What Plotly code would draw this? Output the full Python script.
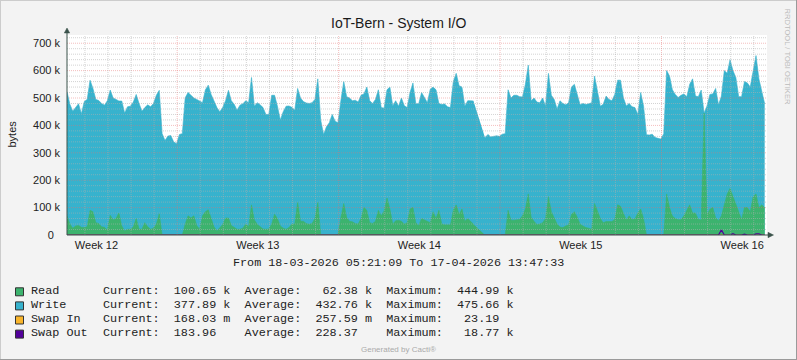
import plotly.graph_objects as go
import pandas as pd

# ---------------- data ----------------
title = "IoT-Bern - System I/O"
start_time = "2026-03-18 05:21:09"
end_time = "2026-04-17 13:47:33"
sample_freq = "3h"

# stacked top (Read + Write), in k bytes
stack_k = [
    523, 477, 452, 465, 479, 443, 487, 495, 565, 535,
    495, 491, 480, 474, 490, 529, 500, 495, 489, 489,
    445, 468, 470, 485, 513, 480, 452, 465, 475, 468,
    480, 510, 528, 370, 345, 361, 363, 340, 333, 367,
    370, 501, 520, 510, 500, 495, 489, 483, 530, 547,
    513, 490, 465, 450, 465, 490, 528, 490, 477, 455,
    474, 479, 490, 483, 575, 470, 483, 475, 465, 440,
    440, 510, 510, 470, 420, 450, 470, 471, 466, 455,
    535, 500, 487, 482, 480, 483, 495, 570, 420, 367,
    395, 410, 440, 415, 410, 490, 560, 505, 500, 490,
    492, 485, 510, 515, 540, 490, 480, 495, 530, 465,
    463, 530, 540, 471, 490, 470, 500, 472, 465, 520,
    555, 479, 479, 520, 500, 483, 532, 540, 530, 480,
    476, 478, 468, 465, 560, 590, 545, 540, 470, 490,
    490, 489, None, None, None, 355, 367, 358, 360, 362,
    360, 368, 370, 530, 500, 510, 510, 505, 504, 550,
    620, 490, 500, 485, 483, 500, 470, 590, 510, 495,
    460, 490, 480, 475, 483, 540, 550, 510, 475, 480,
    476, 479, 483, 580, 530, 470, 477, 507, 495, 490,
    513, 565, 565, 501, 471, 480, 468, 465, 440, 520,
    470, 366, 365, 368, 356, 353, 350, 370, 600, 580,
    530, 513, 502, 510, 515, 505, 550, 570, 507, 505,
    529, 445, 471, 513, 515, 535, 475, 507, 600, 590,
    640, 600, 575, 505, 505, 560, 555, 540, 600, 655,
    570, 520, 479,
]

# Read, in k bytes
read_k = [
    69, 40, 25, 33, 35, 28, 27, 30, 90, 85,
    45, 42, 30, 28, 18, 72, 55, 60, 80, 33,
    15, 21, 21, 29, 60, 22, 21, 45, 30, 21,
    25, 40, 78, 0, 0, 0, 0, 0, 0, 0,
    0, 40, 70, 62, 70, 35, 21, 70, 85, 92,
    60, 30, 15, 28, 38, 62, 62, 35, 29, 21,
    21, 25, 40, 30, 110, 55, 39, 29, 22, 21,
    22, 40, 76, 60, 33, 25, 21, 27, 40, 40,
    120, 50, 50, 42, 39, 42, 60, 120, 0, 0,
    0, 0, 0, 0, 0, 65, 115, 65, 50, 48,
    42, 40, 60, 100, 90, 45, 42, 50, 90, 70,
    88, 135, 95, 40, 52, 54, 50, 40, 45, 95,
    100, 45, 35, 60, 55, 51, 45, 85, 60, 90,
    40, 37, 37, 37, 90, 110, 75, 95, 50, 60,
    50, 39, None, None, None, 0, 0, 0, 0, 0,
    0, 0, 0, 90, 54, 54, 55, 57, 70, 95,
    150, 65, 50, 38, 40, 45, 60, 140, 85, 60,
    40, 29, 27, 33, 37, 75, 85, 65, 39, 33,
    27, 25, 21, 115, 90, 60, 45, 49, 49, 49,
    57, 110, 105, 80, 55, 70, 57, 58, 80, 95,
    60, 0, 0, 0, 0, 0, 0, 0, 150, 100,
    69, 60, 56, 56, 70, 90, 110, 80, 80, 57,
    55, 445, 75, 94, 100, 63, 52, 70, 110, 150,
    170, 140, 110, 82, 57, 100, 100, 85, 140, 150,
    100, 110, 100,
]

# Swap lines (sample index, value in k bytes)
swap_out_idx = [0, 18, 19, 20, 226, 227, 228, 230, 231, 232, 234, 235, 236, 238, 239, 240, 241, 242]
swap_out_k = [0, 0, 2, 0, 0, 18.77, 0, 0, 5, 0, 0, 3, 0, 0, 4, 4, 0, 0]
swap_in_idx = [0, 242]
swap_in_k = [0, 0]

week_labels = ["Week 12", "Week 13", "Week 14", "Week 15", "Week 16"]
week_label_times = ["2026-03-19 12:00", "2026-03-26 12:00", "2026-04-02 12:00",
                    "2026-04-09 12:00", "2026-04-16 12:00"]
y_tick_vals = [0, 100000, 200000, 300000, 400000, 500000, 600000, 700000]
y_tick_text = ["0\u00a0\u00a0", "100 k", "200 k", "300 k", "400 k", "500 k", "600 k", "700 k"]

legend_names = ["Read", "Write", "Swap In", "Swap Out"]
legend_current = ["100.65 k", "377.89 k", "168.03 m", "183.96"]
legend_average = ["62.38 k", "432.76 k", "257.59 m", "228.37"]
legend_maximum = ["444.99 k", "475.66 k", "23.19", "18.77 k"]

BLUE = "#37B2CD"
GREEN = "#3CB36E"
ORANGE = "#F9B52B"
PURPLE = "#52009A"
legend_colors = [GREEN, BLUE, ORANGE, PURPLE]

# ---------------- geometry ----------------
FW, FH = 797, 360
L, R, T, B = 67, 30, 35, 125
W = FW - L - R
H = FH - T - B
Y0 = FH - B  # pixel y of the x axis


def px(x):
    return (x - L) / W


def py(y):
    return (Y0 - y) / H


times = pd.date_range(start=start_time, periods=len(stack_k), freq=sample_freq)
stack = [None if v is None else v * 1000 for v in stack_k]
read = [None if v is None else v * 1000 for v in read_k]

fig = go.Figure()
fig.add_trace(go.Scatter(x=times, y=stack, mode="lines", fill="tozeroy",
                         fillcolor=BLUE, line=dict(color=BLUE, width=0.6),
                         connectgaps=False, name="Write", hoverinfo="skip"))
fig.add_trace(go.Scatter(x=times, y=read, mode="lines", fill="tozeroy",
                         fillcolor=GREEN, line=dict(color=GREEN, width=0.6),
                         connectgaps=False, name="Read", hoverinfo="skip"))
fig.add_trace(go.Scatter(x=[times[i] for i in swap_in_idx], y=[v * 1000 for v in swap_in_k],
                         mode="lines", line=dict(color=ORANGE, width=1), name="Swap In",
                         hoverinfo="skip"))
fig.add_trace(go.Scatter(x=[times[i] for i in swap_out_idx], y=[v * 1000 for v in swap_out_k],
                         mode="lines", line=dict(color=PURPLE, width=1.2), name="Swap Out",
                         hoverinfo="skip"))

RED_GRID = "rgba(230,110,110,0.45)"
GREY_GRID = "rgba(175,175,175,0.55)"
shapes = []
# grid lines (drawn above the areas, like rrdtool)
for v in range(20000, 730000, 20000):
    major = v % 100000 == 0
    shapes.append(dict(type="line", xref="paper", yref="y", x0=0, x1=1, y0=v, y1=v,
                       layer="above",
                       line=dict(color=RED_GRID if major else GREY_GRID, width=1, dash="1px,1px")))
days = pd.date_range("2026-03-19", "2026-04-17", freq="D")
for d in days:
    major = d.weekday() == 0
    shapes.append(dict(type="line", xref="x", yref="paper", x0=d, x1=d, y0=0, y1=1,
                       layer="above",
                       line=dict(color=RED_GRID if major else GREY_GRID, width=1, dash="1px,1px")))

AX = "#3A524B"
# axis lines + arrows
shapes.append(dict(type="line", xref="paper", yref="paper", x0=px(L), x1=px(769), y0=0, y1=0,
                   layer="above", line=dict(color=AX, width=1)))
shapes.append(dict(type="line", xref="paper", yref="paper", x0=0, x1=0, y0=0, y1=py(31),
                   layer="above", line=dict(color=AX, width=1)))
shapes.append(dict(type="path", xref="paper", yref="paper", layer="above",
                   path=f"M {px(768)},{py(232.3)} L {px(773.5)},{py(235)} L {px(768)},{py(237.7)} Z",
                   fillcolor=AX, line=dict(color=AX, width=0.5)))
shapes.append(dict(type="path", xref="paper", yref="paper", layer="above",
                   path=f"M {px(64.3)},{py(33)} L {px(67)},{py(28)} L {px(69.7)},{py(33)} Z",
                   fillcolor=AX, line=dict(color=AX, width=0.5)))

# legend swatches
for k, c in enumerate(legend_colors):
    yc = 291.8 + 14.1 * k
    shapes.append(dict(type="rect", xref="paper", yref="paper",
                       x0=px(15.5), x1=px(23.5), y0=py(yc - 4), y1=py(yc + 4),
                       fillcolor=c, line=dict(color="#333333", width=1)))

# image frame
shapes.append(dict(type="line", xref="paper", yref="paper", x0=px(0), x1=px(FW), y0=py(0.5), y1=py(0.5),
                   line=dict(color="#CCCCCC", width=1)))
shapes.append(dict(type="line", xref="paper", yref="paper", x0=px(0.5), x1=px(0.5), y0=py(0), y1=py(FH),
                   line=dict(color="#CCCCCC", width=1)))
shapes.append(dict(type="line", xref="paper", yref="paper", x0=px(0), x1=px(FW), y0=py(FH - 0.5), y1=py(FH - 0.5),
                   line=dict(color="#9A9A9A", width=1)))
shapes.append(dict(type="line", xref="paper", yref="paper", x0=px(FW - 0.5), x1=px(FW - 0.5), y0=py(0), y1=py(FH),
                   line=dict(color="#9A9A9A", width=1)))

NB = "\u00a0"
annotations = []


def ann(text, x, y, size, color="#222222", family="Liberation Sans", xanchor="center",
        yanchor="middle", angle=0):
    annotations.append(dict(text=text, xref="paper", yref="paper", x=px(x), y=py(y),
                            xanchor=xanchor, yanchor=yanchor, showarrow=False, textangle=angle,
                            font=dict(family=family, size=size, color=color)))


ann(title, 398, 22.5, 14, color="#1a1a1a")
ann("bytes", 11, 134.5, 11, angle=-90)
ann("RRDTOOL / TOBI OETIKER", 787.5, 56, 7.6, color="#BBBBBB", angle=90)
ann("From 18-03-2026 05:21:09 To 17-04-2026 13:47:33".replace(" ", NB), 398, 263, 11.75,
    family="Liberation Mono")


def gp(label, value):
    parts = value.split(" ")
    num = parts[0]
    unit = parts[1] if len(parts) > 1 else " "
    return f"{label}:{num:>8} {unit}"


for k, name in enumerate(legend_names):
    yc = 291 + 14.1 * k
    ann(name, 28.5, yc, 11.8, family="Liberation Mono", xanchor="left")
    row = "  ".join([gp("Current", legend_current[k]), gp("Average", legend_average[k]),
                     gp("Maximum", legend_maximum[k])])
    ann(row.replace(" ", NB), 100.5, yc, 11.8, family="Liberation Mono", xanchor="left")

ann("Generated by Cacti®", 398, 349.5, 8, color="#AAAAAA")

fig.update_layout(
    width=FW, height=FH,
    margin=dict(l=L, r=R, t=T, b=B, pad=0),
    paper_bgcolor="#F3F3F3", plot_bgcolor="#FFFFFF",
    showlegend=False,
    shapes=shapes, annotations=annotations,
    xaxis=dict(type="date", range=[start_time, end_time], showgrid=False, showline=False,
               zeroline=False, tickvals=week_label_times, ticktext=week_labels, ticks="",
               ticklabelstandoff=2,
               tickfont=dict(family="Liberation Sans", size=11, color="#222222"),
               fixedrange=True),
    yaxis=dict(range=[0, 730000], showgrid=False, showline=False, zeroline=False,
               tickvals=y_tick_vals, ticktext=y_tick_text, ticks="", ticklabelstandoff=6,
               tickfont=dict(family="Liberation Sans", size=11, color="#222222"),
               fixedrange=True),
)

fig.write_html("out.html", config={"displayModeBar": False},
               post_script="document.body.style.margin='0';document.body.style.padding='0';")
